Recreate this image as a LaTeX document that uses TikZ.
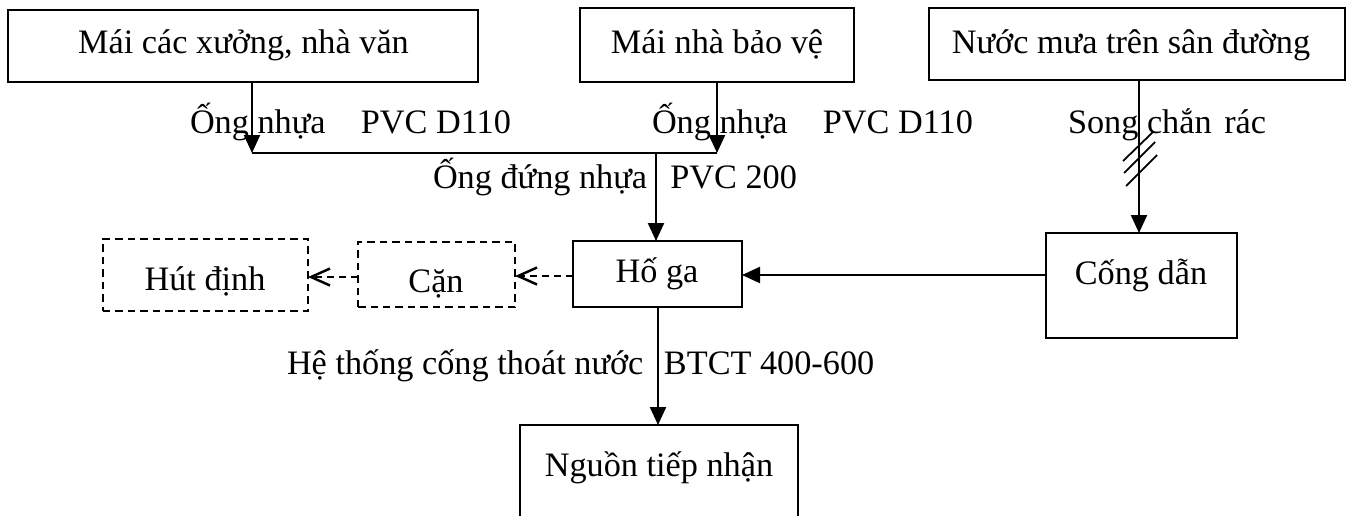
\documentclass[tikz,border=0pt]{standalone}
\usepackage{fontspec}
\setmainfont{Liberation Serif}
\usetikzlibrary{arrows.meta,fit,calc}
\begin{document}
\begin{tikzpicture}[x=0.02cm,y=-0.02cm,
  box/.style={draw, line width=0.85pt, inner sep=0pt, outer sep=0pt},
  dbox/.style={box, dash pattern=on 0.15cm off 0.1cm},
  txt/.style={inner sep=0pt, outer sep=0pt, font=\fontsize{19.5pt}{23pt}\selectfont},
  arr/.style={line width=1.25pt, -{Triangle[length=0.36cm,width=0.32cm]}},
  plain/.style={line width=1.25pt},
  darr/.style={line width=1.2pt, dash pattern=on 0.14cm off 0.1cm, -{Straight Barb[length=0.38cm,width=0.34cm,line width=1.4pt]}},
  hatch/.style={line width=1pt}
]
\useasboundingbox (0,0) rectangle (1350,515);
\clip (0,0) rectangle (1350,515);

% boxes
\node[box, fit={(8,10) (478,82)}] (b1) {};
\node[box, fit={(580,8) (854,82)}] (b2) {};
\node[box, fit={(929,8) (1345,80)}] (b3) {};
\node[box, fit={(573,241) (742,307)}] (hoga) {};
\node[box, fit={(1046,233) (1237,338)}] (cong) {};
\node[dbox, fit={(358,242) (515,307)}] (can) {};
\node[dbox, fit={(103,239) (308,311)}] (hut) {};
\node[box, fit={(520,425) (798,560)}] (nguon) {};

% box texts
\node[txt, anchor=base] (t1) at (243.5,53) {Mái các xưởng, nhà văn};
\node[txt, anchor=base] (t2) at (717,53) {Mái nhà bảo vệ};
\node[txt, anchor=base] (t3) at (1131,53) {Nước mưa trên sân đường};
\node[txt, anchor=base] (t4) at (657,282) {Hố ga};
\node[txt, anchor=base] (t5) at (1141,284) {Cống dẫn};
\node[txt, anchor=base] (t6) at (436,292) {Cặn};
\node[txt, anchor=base] (t7) at (205,290) {Hút định};
\node[txt, anchor=base] (t8) at (659,476) {Nguồn tiếp nhận};

% connector labels
\node[txt, anchor=base west] (l1) at (190,133) {Ống nhựa\hspace{1.03em}PVC D110};
\node[txt, anchor=base west] (l2) at (652,133) {Ống nhựa\hspace{1.03em}PVC D110};
\node[txt, anchor=base west] (l3) at (1068,133) {Song chắn\hspace{0.37em}rác};
\node[txt, anchor=base west] (l4) at (433,188) {Ống đứng nhựa\hspace{0.68em}PVC 200};
\node[txt, anchor=base west] (l5) at (287,374) {Hệ thống cống thoát nước\hspace{0.6em}BTCT 400-600};

% junction points
\coordinate (j1) at (252,153);
\coordinate (j2) at (717,153);
\coordinate (j3) at (656,153);
\coordinate (k) at (1046,275);

% connectors
\draw[arr] (b1.south -| j1) -- (j1);
\draw[arr] (b2.south -| j2) -- (j2);
\draw[plain] (j1) -- (j2);
\draw[arr] (j3) -- (j3 |- hoga.north);
\draw[arr] (hoga.south -| 658,0) -- (nguon.north -| 658,0);
\draw[arr] (b3.south -| 1139,0) -- (cong.north -| 1139,0);
\draw[arr] (cong.west |- k) -- (hoga.east |- k);
\draw[darr] (hoga.west |- 0,276) -- (can.east |- 0,276);
\draw[darr] (can.west |- 0,277) -- (hut.east |- 0,277);

% screen marks (song chan rac)
\draw[hatch] (1123,161) -- (1153,132);
\draw[hatch] (1124,173) -- (1155,142);
\draw[hatch] (1126,186) -- (1157,155);
\end{tikzpicture}
\end{document}
